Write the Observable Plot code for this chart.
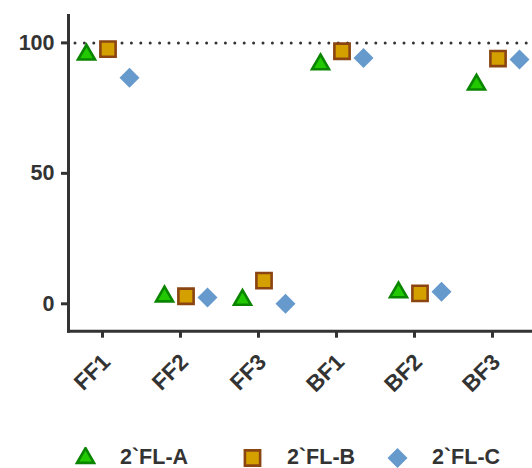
<!DOCTYPE html>
<html>
<head>
<meta charset="utf-8">
<script src="https://cdn.jsdelivr.net/npm/d3@7"></script>
<script src="https://cdn.jsdelivr.net/npm/@observablehq/plot@0.6"></script>
<style>
  body { margin: 0; background: #fff; font-family: "Liberation Sans", Arial, sans-serif; }
  #wrap { position: relative; width: 532px; height: 468px; overflow: hidden; }
  #legend { position: relative; height: 58px; }
  .lab { position: absolute; font-weight: bold; font-size: 21.5px; color: #333; top: 35px; }
</style>
</head>
<body>
<div id="wrap">
  <div id="chart"></div>
  <div id="legend"></div>
</div>
<script>
const categories = ["FF1", "FF2", "FF3", "BF1", "BF2", "BF3"];
const seriesNames = ["2`FL-A", "2`FL-B", "2`FL-C"];
const valuesA = [95.5, 2.8, 1.5, 91.8, 4.4, 84.0];
const valuesB = [97.6, 2.9, 8.9, 96.8, 4.0, 94.0];
const valuesC = [86.6, 2.4, 0.0, 94.2, 4.6, 93.6];
const yTicks = [0, 50, 100];
const referenceLine = [100];

const rows = (vals) => categories.map((c, i) => ({cat: c, v: vals[i]}));

const ink = "#333333";
const styles = {
  A: {symbol: "triangle", r: 6.3, fill: "#22c800", stroke: "#0a8500", strokeWidth: 2.6, dx: -16},
  B: {symbol: "square", r: 8.6, fill: "#d4a000", stroke: "#8b4513", strokeWidth: 2.6, dx: 5.5},
  C: {symbol: "diamond2", r: 9, fill: "#6699cc", stroke: "none", dx: 27}
};

const chart = Plot.plot({
  width: 532,
  height: 410,
  marginLeft: 68,
  marginRight: 0,
  marginTop: 15,
  marginBottom: 79.3,
  style: {fontFamily: "'Liberation Sans', Arial, sans-serif", color: ink, background: "#fff", overflow: "hidden"},
  x: {type: "point", domain: categories, padding: 0.462, align: 0.466, label: null},
  y: {domain: [-10.5, 110.5], label: null},
  marks: [
    Plot.ruleY(referenceLine, {stroke: ink, strokeWidth: 3, strokeDasharray: "0 9.4", strokeLinecap: "round", strokeDashoffset: -7}),
    Plot.axisY({ticks: yTicks, tickSize: 7, tickPadding: 7, fontSize: 21.5, fontWeight: "bold", stroke: ink, strokeWidth: 3, fill: ink, label: null}),
    Plot.axisX({tickSize: 7, text: null, stroke: ink, strokeWidth: 3, label: null}),
    Plot.axisX({tickSize: 0, tickPadding: 27, dx: 4, tickRotate: -45, fontSize: 22.5, fontWeight: "bold", fill: ink, label: null}),
    Plot.frame({anchor: "left", stroke: ink, strokeWidth: 3}),
    Plot.frame({anchor: "bottom", stroke: ink, strokeWidth: 3}),
    Plot.dot(rows(valuesA), {x: "cat", y: "v", ...styles.A}),
    Plot.dot(rows(valuesB), {x: "cat", y: "v", ...styles.B}),
    Plot.dot(rows(valuesC), {x: "cat", y: "v", ...styles.C})
  ]
});
document.getElementById("chart").appendChild(chart);

// Legend
const legend = document.getElementById("legend");
const keys = ["A", "B", "C"];
const iconLeft = [74.5, 241.5, 386.5];
const textLeft = [120, 287, 432];
keys.forEach((k, i) => {
  const s = styles[k];
  const svg = d3.create("svg").attr("width", 21).attr("height", 22)
    .style("position", "absolute").style("left", iconLeft[i] + "px").style("top", "37px");
  const sym = {triangle: d3.symbolTriangle, square: d3.symbolSquare, diamond2: d3.symbolDiamond2}[s.symbol];
  svg.append("path")
    .attr("transform", "translate(10.5,11)")
    .attr("d", d3.symbol(sym, Math.PI * s.r * s.r)())
    .attr("fill", s.fill).attr("stroke", s.stroke).attr("stroke-width", s.strokeWidth || 0);
  legend.appendChild(svg.node());
  const t = document.createElement("div");
  t.className = "lab";
  t.style.left = textLeft[i] + "px";
  t.textContent = seriesNames[i];
  legend.appendChild(t);
});
</script>
</body>
</html>
